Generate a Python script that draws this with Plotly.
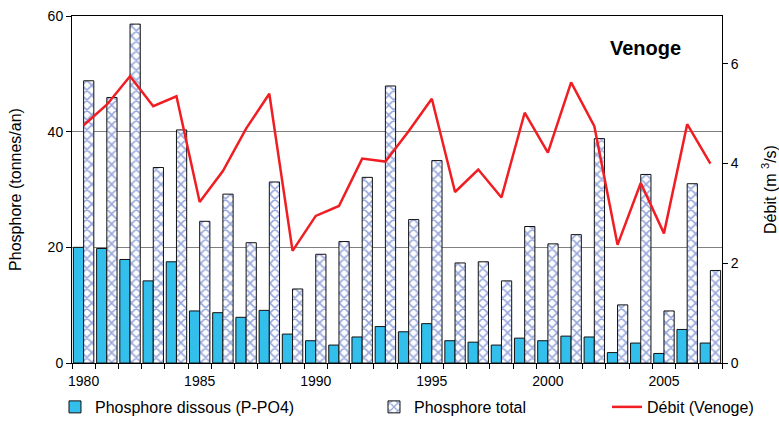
import plotly.graph_objects as go

years = list(range(1980, 2008))
tick_years = [1980, 1985, 1990, 1995, 2000, 2005]
tick_labels = ["1980", "1985", "1990", "1995", "2000", "2005"]
dissous = [20.0, 19.8, 17.9, 14.2, 17.5, 9.0, 8.7, 7.9, 9.1, 5.0,
           3.85, 3.1, 4.5, 6.3, 5.4, 6.8, 3.85, 3.6, 3.1, 4.3,
           3.85, 4.65, 4.5, 1.8, 3.45, 1.65, 5.8, 3.45]
total = [48.8, 45.9, 58.6, 33.8, 40.3, 24.5, 29.2, 20.8, 31.3, 12.8,
         18.8, 21.0, 32.1, 47.9, 24.8, 35.0, 17.3, 17.5, 14.2, 23.6,
         20.6, 22.2, 38.8, 10.05, 32.6, 9.0, 31.0, 16.0]
debit = [4.77, 5.18, 5.75, 5.15, 5.35, 3.23, 3.85, 4.7, 5.4, 2.25,
         2.95, 3.15, 4.1, 4.04, 4.65, 5.3, 3.43, 3.88, 3.32, 5.02,
         4.22, 5.63, 4.75, 2.37, 3.61, 2.6, 4.79, 4.0]

FONT = "Liberation Sans, Arial, sans-serif"

fig = go.Figure()
fig.add_trace(go.Bar(
    x=years, y=dissous, name="Phosphore dissous (P-PO4)",
    marker=dict(color="#33BFEB", line=dict(color="#111111", width=1)),
    legend="legend", showlegend=True,
))
fig.add_trace(go.Bar(
    x=years, y=total, name="Phosphore total",
    marker=dict(color="white", line=dict(color="#111111", width=1),
                pattern=dict(shape="x", fgcolor="#3050B8", bgcolor="white",
                             size=7, solidity=0.4)),
    legend="legend2", showlegend=True,
))
fig.add_trace(go.Scatter(
    x=years, y=debit, name="Débit (Venoge)", yaxis="y2", mode="lines",
    line=dict(color="#F01E23", width=2.5),
    legend="legend3", showlegend=True,
))

leg_common = dict(orientation="h", xref="container", yref="container",
                  yanchor="middle", y=0.0333, xanchor="left",
                  bgcolor="rgba(0,0,0,0)", font=dict(family=FONT, size=16, color="black"))

fig.update_layout(
    width=779, height=421,
    showlegend=True,
    margin=dict(l=72, r=57, t=16, b=58),
    paper_bgcolor="white", plot_bgcolor="white",
    font=dict(family=FONT, size=14, color="black"),
    barmode="group", bargap=0.12, bargroupgap=0,
    xaxis=dict(
        range=[1979.5, 2007.5], tickmode="array", tickvals=tick_years, ticktext=tick_labels,
        ticks="outside", ticklen=5, tickcolor="rgba(0,0,0,0)",
        minor=dict(ticks="outside", tick0=1979.5, dtick=1, ticklen=5, tickcolor="black", tickwidth=1),
        showline=True, linecolor="black", linewidth=1, mirror=True,
        showgrid=False, zeroline=False, automargin=False,
        tickfont=dict(size=14),
    ),
    yaxis=dict(
        range=[0, 60], tickvals=[0, 20, 40, 60], ticks="outside", ticklen=5,
        tickcolor="black", showline=True, linecolor="black", linewidth=1,
        showgrid=True, gridcolor="#808080", gridwidth=1, zeroline=False,
        automargin=False,
        title=dict(text="Phosphore (tonnes/an)", font=dict(size=16), standoff=22),
        tickfont=dict(size=14),
    ),
    yaxis2=dict(
        overlaying="y", side="right", range=[0, 6.96], tickvals=[0, 2, 4, 6],
        ticks="outside", ticklen=5, tickcolor="black", showline=True,
        linecolor="black", linewidth=1, showgrid=False, zeroline=False,
        automargin=False,
        title=dict(text="Débit (m <sup>3</sup>/s)", font=dict(size=16), standoff=30),
        tickfont=dict(size=14),
    ),
    legend=dict(x=0.0706, **leg_common),
    legend2=dict(x=0.4801, **leg_common),
    legend3=dict(x=0.7792, **leg_common),
    annotations=[dict(
        text="<b>Venoge</b>", x=0.883, y=0.909, xref="paper", yref="paper",
        xanchor="center", yanchor="middle", showarrow=False,
        font=dict(family=FONT, size=20, color="black"),
    )],
)

fig.write_html("out.html", config={"displayModeBar": False},
               post_script="document.body.style.margin='0px';")
